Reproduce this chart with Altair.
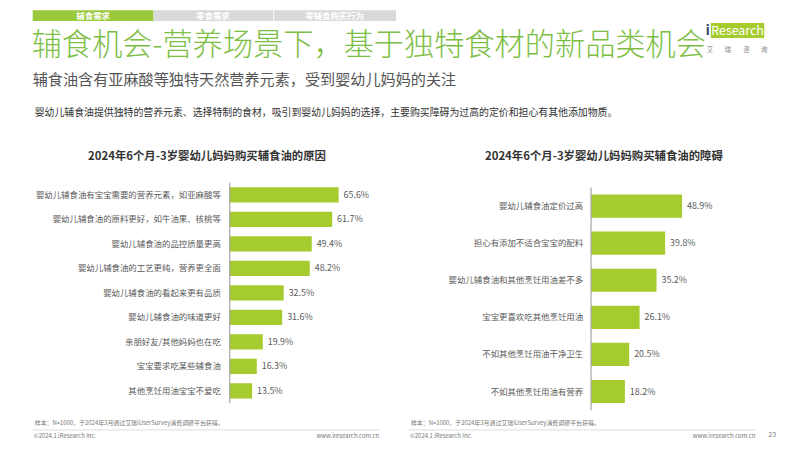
import altair as alt
import pandas as pd

# ---------------- data ----------------
left_labels = [
    "婴幼儿辅食油有宝宝需要的营养元素，如亚麻酸等",
    "婴幼儿辅食油的原料更好，如牛油果、核桃等",
    "婴幼儿辅食油的品控质量更高",
    "婴幼儿辅食油的工艺更纯，营养更全面",
    "婴幼儿辅食油的看起来更有品质",
    "婴幼儿辅食油的味道更好",
    "亲朋好友/其他妈妈也在吃",
    "宝宝要求吃某些辅食油",
    "其他烹饪用油宝宝不爱吃",
]
left_values = [65.6, 61.7, 49.4, 48.2, 32.5, 31.6, 19.9, 16.3, 13.5]

right_labels = [
    "婴幼儿辅食油定价过高",
    "担心有添加不适合宝宝的配料",
    "婴幼儿辅食油和其他烹饪用油差不多",
    "宝宝更喜欢吃其他烹饪用油",
    "不如其他烹饪用油干净卫生",
    "不如其他烹饪用油有营养",
]
right_values = [48.9, 39.8, 35.2, 26.1, 20.5, 18.2]

tabs = ["辅食需求", "零食需求", "零辅食购买行为"]
main_title = "辅食机会-营养场景下，基于独特食材的新品类机会"
subtitle = "辅食油含有亚麻酸等独特天然营养元素，受到婴幼儿妈妈的关注"
description = "婴幼儿辅食油提供独特的营养元素、选择特制的食材，吸引到婴幼儿妈妈的选择，主要购买障碍为过高的定价和担心有其他添加物质。"
left_title = "2024年6个月-3岁婴幼儿妈妈购买辅食油的原因"
right_title = "2024年6个月-3岁婴幼儿妈妈购买辅食油的障碍"
source_note = "样本：N=1000，于2024年3月通过艾瑞iUserSurvey消费调研平台获得。"
copyright_text = "©2024.1 iResearch Inc."
website = "www.iresearch.com.cn"
page_no = "23"
logo_cn = ["艾", "瑞", "咨", "询"]

FONT = "Noto Sans CJK SC"
BAR = "#A6CB2F"
GREEN = "#7DBE45"
TXT = "#595959"

W, H = 791, 442
O = 8  # page margin offset


def txt(text, x, y, size, color="#333333", weight="normal", align="left", baseline="middle"):
    return alt.Chart(pd.DataFrame({"t": [text]})).mark_text(
        font=FONT, fontSize=size, color=color, fontWeight=weight,
        align=align, baseline=baseline,
    ).encode(x=alt.value(x - O), y=alt.value(y - O), text="t:N")


def rect(x, x2, y, y2, color):
    return alt.Chart(pd.DataFrame({"a": [0]})).mark_rect(color=color).encode(
        x=alt.value(x - O), x2=alt.value(x2 - O), y=alt.value(y - O), y2=alt.value(y2 - O)
    )


def rule(x, x2, y, y2, color, w=1):
    return alt.Chart(pd.DataFrame({"a": [0]})).mark_rule(color=color, strokeWidth=w).encode(
        x=alt.value(x - O), x2=alt.value(x2 - O), y=alt.value(y - O), y2=alt.value(y2 - O)
    )


def bar_panel(labels, values, axis_x, px_per_pct, y0, y1, label_x):
    df = pd.DataFrame({"label": labels, "value": values})
    df["vtxt"] = [f"{v:.1f}%" for v in values]
    xs = alt.Scale(domain=[0, 100], range=[axis_x - O, axis_x - O + 100 * px_per_pct])
    ys = alt.Scale(domain=labels, range=[y0 - O, y1 - O], paddingInner=0.375, paddingOuter=0.19)
    base = alt.Chart(df)
    bars = base.mark_bar(color=BAR).encode(
        x=alt.X("value:Q", scale=xs, axis=None),
        y=alt.Y("label:N", scale=ys, axis=None, sort=labels),
    )
    vals = base.mark_text(font=FONT, fontSize=9, color=TXT, align="left", dx=5, baseline="middle").encode(
        x=alt.X("value:Q", scale=xs, axis=None),
        y=alt.Y("label:N", scale=ys, axis=None, sort=labels),
        text="vtxt:N",
    )
    labs = base.mark_text(font=FONT, fontSize=8.5, color=TXT, align="right", baseline="middle").encode(
        x=alt.value(label_x - O),
        y=alt.Y("label:N", scale=ys, axis=None, sort=labels),
        text="label:N",
    )
    axis_line = rule(axis_x, axis_x, y0, y1, "#A6A6A6", 1.2)
    return [bars, vals, labs, axis_line]


layers = []
# tabs (the page margin hides the top 8px, so the tab strip starts at the visible edge)
layers.append(rect(33, 155, 8, 19, "#9BC93C"))
layers.append(rect(155, 276, 8, 19, "#D9D9D9"))
layers.append(rect(277, 400, 8, 19, "#D9D9D9"))
layers.append(txt(tabs[0], 94, 13.5, 8.5, "#FFFFFF", "bold", "center"))
layers.append(txt(tabs[1], 215, 13.5, 8.5, "#FFFFFF", "bold", "center"))
layers.append(txt(tabs[2], 338, 13.5, 8.5, "#FFFFFF", "bold", "center"))

# titles
layers.append(txt(main_title, 32, 44, 30.5, GREEN, 300))
layers.append(txt(subtitle, 33, 79, 15.3, "#555555"))
layers.append(txt(description, 35, 112, 10, "#333333"))

# logo
layers.append(rect(718, 772, 21, 36, "#A6CB2F"))
layers.append(txt("i", 713, 29, 13, "#1F3864", "bold"))
layers.append(txt("Research", 745, 29, 12.5, "#FFFFFF", "normal", "center"))
for ch, cx in zip(logo_cn, [717, 735, 754, 772]):
    layers.append(txt(ch, cx, 48, 6.5, "#888888", "normal", "center"))

# chart titles
layers.append(txt(left_title, 209, 156, 11.5, "#333333", "bold", "center"))
layers.append(txt(right_title, 610, 156, 11.5, "#333333", "bold", "center"))

# panels
layers += bar_panel(left_labels, left_values, 232, 1.677, 182, 405, 223)
layers += bar_panel(right_labels, right_values, 597, 1.88, 187, 412, 589)

# footers
for (x0, x1) in [(33, 383), (413, 763)]:
    layers.append(txt(source_note, x0 + 2, 425, 6, "#777777"))
    layers.append(rule(x0, x1, 432, 432, "#DDDDDD", 1))
    layers.append(txt(copyright_text, x0 + 1, 438, 6, "#777777"))
    layers.append(txt(website, x1, 438, 6, "#777777", "normal", "right"))
layers.append(txt(page_no, 780, 437, 7, "#777777", "normal", "center"))

chart = alt.layer(*layers).resolve_scale(x="independent", y="independent").properties(
    width=W, height=H, autosize=alt.AutoSizeParams(type="none"), padding=0,
    background="#FFFFFF",
).configure_view(stroke=None)

chart.save("out.html", embed_options={"renderer": "svg", "actions": False})
